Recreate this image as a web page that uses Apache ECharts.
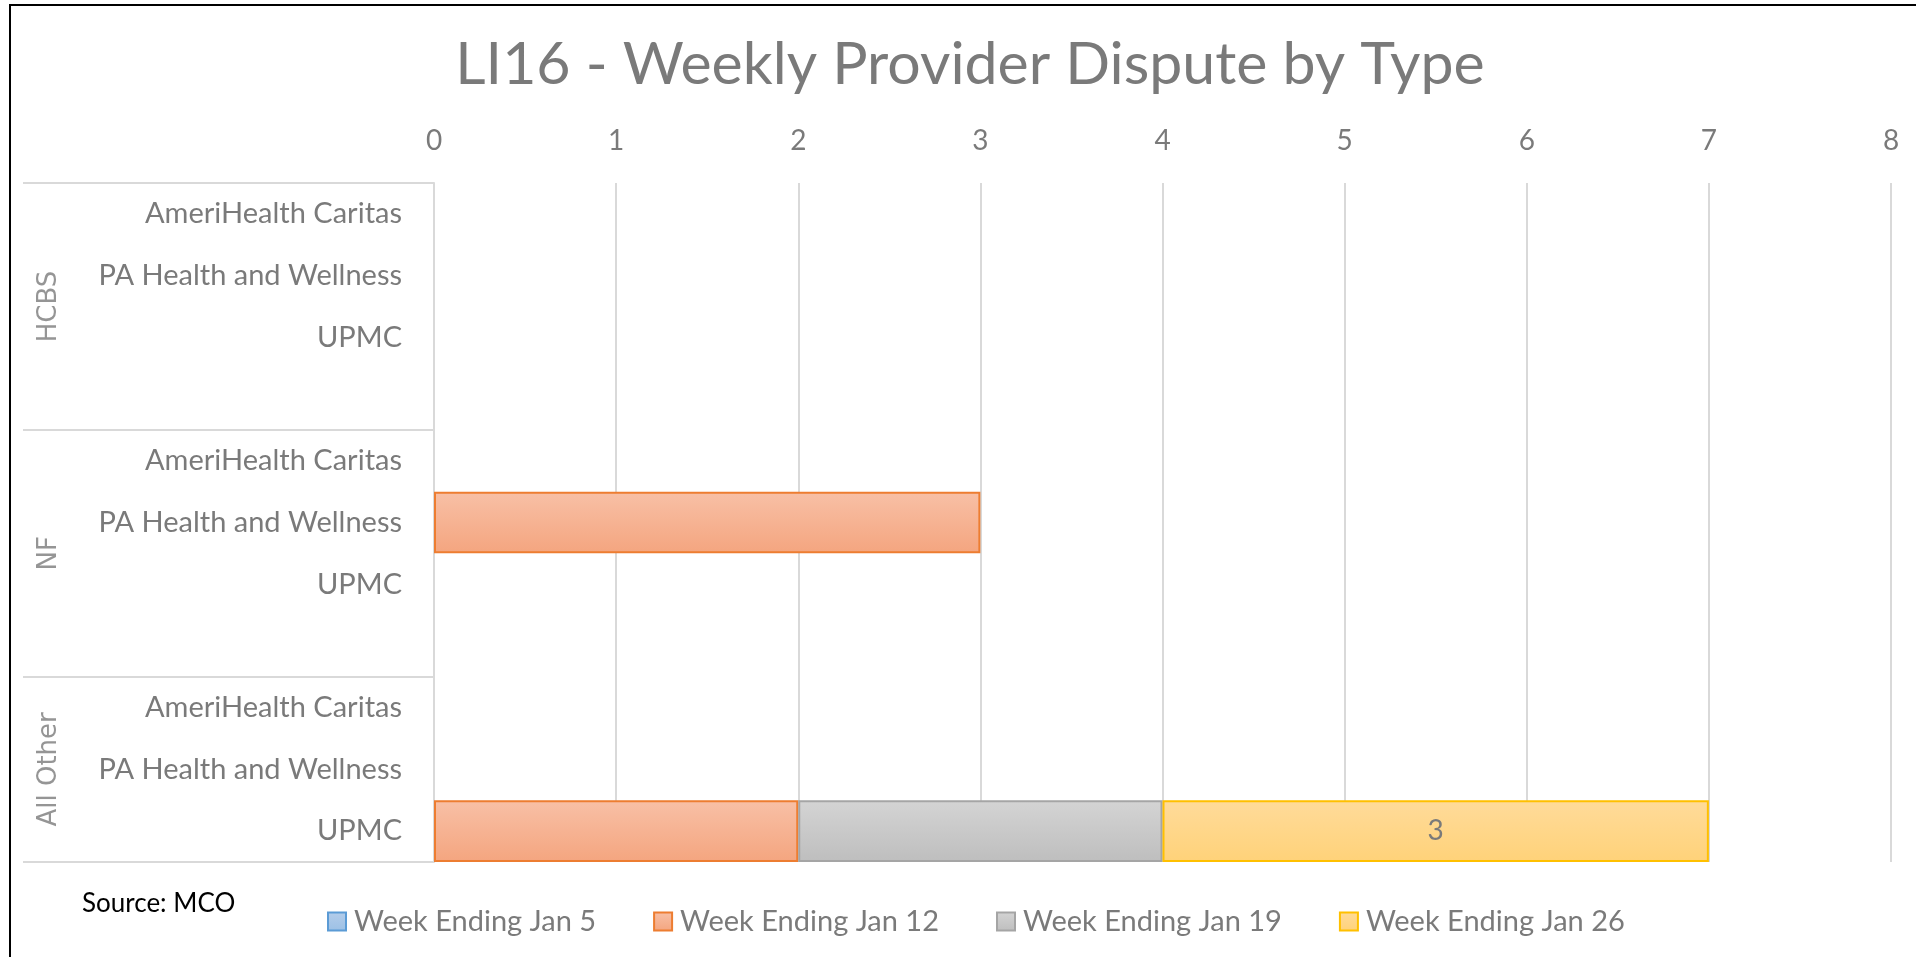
<!DOCTYPE html>
<html>
<head>
<meta charset="utf-8">
<script src="https://cdn.jsdelivr.net/npm/echarts@6/dist/echarts.min.js"></script>
<style>
  html, body { margin: 0; padding: 0; background: #fff; overflow: hidden; }
  #chart { width: 1916px; height: 957px; }
  #frame { position: absolute; left: 9px; top: 4px; width: 2000px; height: 2000px; border: 2px solid #000; pointer-events: none; }
</style>
</head>
<body>
<div id="chart"></div>
<div id="frame"></div>
<script>
// category rows, top to bottom ('' = spacer row between groups)
const categories = [
  'AmeriHealth Caritas', 'PA Health and Wellness', 'UPMC', '',
  'AmeriHealth Caritas', 'PA Health and Wellness', 'UPMC', '',
  'AmeriHealth Caritas', 'PA Health and Wellness', 'UPMC'
];
const groups = ['HCBS', 'NF', 'All Other'];
const groupSizes = [4, 4, 3];

const weekNames = ['Week Ending Jan 5', 'Week Ending Jan 12', 'Week Ending Jan 19', 'Week Ending Jan 26'];
const jan5  = [null, null, null, null, null, null, null, null, null, null, null];
const jan12 = [null, null, null, null, null, 3, null, null, null, null, 2];
const jan19 = [null, null, null, null, null, null, null, null, null, null, 2];
const jan26 = [null, null, null, null, null, null, null, null, null, null, 3];

const xTicks = [0, 1, 2, 3, 4, 5, 6, 7, 8];

const font = 'Lato';
const gray = '#7a7a7a';

function grad(top, bottom) {
  return new echarts.graphic.LinearGradient(0, 0, 0, 1, [
    { offset: 0, color: top },
    { offset: 1, color: bottom }
  ]);
}

const styles = [
  { color: grad('#B4CDEA', '#9CC0E5'), borderColor: '#5B9BD5' },
  { color: grad('#F8C0A6', '#F4A57F'), borderColor: '#ED7D31' },
  { color: grad('#D4D4D4', '#BEBEBE'), borderColor: '#A5A5A5' },
  { color: grad('#FFDB9A', '#FFD279'), borderColor: '#FFC000' }
];

// group label positions (middle of each group, in row units)
const groupMid = [];
let acc = 0;
groupSizes.forEach(function (n, i) {
  groupMid.push([0.5, acc + n / 2, groups[i]]);
  acc += n;
});

const chart = echarts.init(document.getElementById('chart'));

const barSeries = [jan5, jan12, jan19, jan26].map(function (vals, i) {
  return {
    name: weekNames[i],
    type: 'bar',
    stack: 'total',
    xAxisIndex: 0,
    yAxisIndex: 0,
    barCategoryGap: '0%',
    data: vals,
    itemStyle: Object.assign({ borderWidth: 2 }, styles[i]),
    label: {
      show: i === 3,
      position: 'inside',
      color: gray,
      fontFamily: font,
      fontSize: 28
    },
    emphasis: { disabled: true }
  };
});

const option = {
  backgroundColor: '#fff',
  animation: false,
  title: [
    {
      text: 'LI16 - Weekly Provider Dispute by Type',
      left: 965,
      textAlign: 'center',
      top: 30,
      textStyle: { color: gray, fontFamily: font, fontWeight: 'normal', fontSize: 59 }
    },
    {
      text: 'Source: MCO',
      left: 82,
      top: 891,
      padding: 0,
      textStyle: { color: '#000', fontFamily: font, fontWeight: 'normal', fontSize: 26 }
    }
  ],
  legend: {
    data: weekNames,
    left: 322,
    top: 902,
    icon: 'rect',
    itemWidth: 18,
    itemHeight: 18,
    itemGap: 57,
    textStyle: { color: gray, fontFamily: font, fontSize: 29, width: 260, padding: [0, 0, 0, 3] }
  },
  grid: [
    { left: 434, right: 25, top: 183, bottom: 95 },
    { left: 34, width: 30, top: 183, bottom: 95 }
  ],
  xAxis: [
    {
      type: 'value',
      position: 'top',
      min: xTicks[0],
      max: xTicks[xTicks.length - 1],
      interval: 1,
      axisLine: { show: false },
      axisTick: { show: false },
      axisLabel: { color: gray, fontFamily: font, fontSize: 28, margin: 28 },
      splitLine: { lineStyle: { color: '#D9D9D9', width: 2 } }
    },
    { gridIndex: 1, type: 'value', min: 0, max: 1, show: false }
  ],
  yAxis: [
    {
      type: 'category',
      inverse: true,
      data: categories,
      axisLine: { show: true, lineStyle: { color: '#D9D9D9', width: 2 } },
      axisTick: {
        show: true,
        length: 411,
        interval: function (idx) { return idx === 0 || idx === 4 || idx === 8; },
        lineStyle: { color: '#D9D9D9', width: 2 }
      },
      axisLabel: { color: gray, fontFamily: font, fontSize: 29, margin: 32, interval: 0 },
      splitLine: { show: false }
    },
    { gridIndex: 1, type: 'value', inverse: true, min: 0, max: categories.length, show: false }
  ],
  series: barSeries.concat([
    {
      type: 'scatter',
      xAxisIndex: 1,
      yAxisIndex: 1,
      symbolSize: 1,
      itemStyle: { color: 'transparent' },
      data: groupMid,
      label: {
        show: true,
        position: 'inside',
        rotate: 90,
        formatter: function (p) { return p.data[2]; },
        color: gray,
        fontFamily: 'DejaVu Sans',
        fontSize: 26
      },
      silent: true
    }
  ])
};

option && chart.setOption(option);
</script>
</body>
</html>
